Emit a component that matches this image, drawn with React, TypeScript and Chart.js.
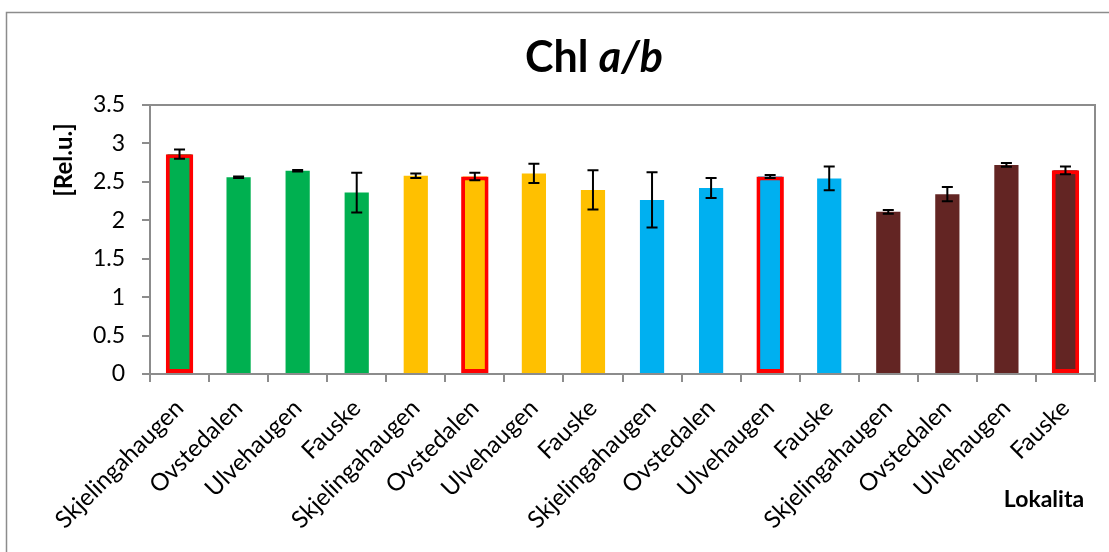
import React, { useEffect, useRef } from 'react';
import { Chart, registerables } from 'chart.js';

Chart.register(...registerables);

const categories = [
  'Skjelingahaugen', 'Ovstedalen', 'Ulvehaugen', 'Fauske',
  'Skjelingahaugen', 'Ovstedalen', 'Ulvehaugen', 'Fauske',
  'Skjelingahaugen', 'Ovstedalen', 'Ulvehaugen', 'Fauske',
  'Skjelingahaugen', 'Ovstedalen', 'Ulvehaugen', 'Fauske',
];
const values = [2.86, 2.56, 2.645, 2.36, 2.58, 2.57, 2.61, 2.395, 2.265, 2.42, 2.57, 2.545, 2.11, 2.34, 2.72, 2.65];
const errors = [0.06, 0.01, 0.01, 0.26, 0.03, 0.05, 0.125, 0.255, 0.36, 0.13, 0.02, 0.155, 0.025, 0.093, 0.025, 0.05];
const groupColors = ['#00B050', '#FFC000', '#00B0F0', '#632523'];
const highlighted = [0, 5, 10, 15];
const yMin = 0;
const yMax = 3.5;
const yStep = 0.5;
const titleMain = 'Chl ';
const titleItalic = 'a/b';
const yTitle = '[Rel.u.]';
const xTitle = 'Lokalita';

const FONT = 'Lato, "Open Sans", "DejaVu Sans", sans-serif';
const GRAY = '#8c8c8c';

const barColors = categories.map((_, i) => groupColors[Math.floor(i / 4)]);
const highlightValues = values.map((v, i) => (highlighted.includes(i) ? v : null));

const decor = {
  id: 'decor',
  beforeDraw(chart: any) {
    const ctx = chart.ctx;
    ctx.save();
    ctx.strokeStyle = GRAY;
    ctx.lineWidth = 1.5;
    ctx.strokeRect(6.5, 12.5, chart.width + 100, chart.height + 100);
    ctx.restore();
  },
  beforeDatasetsDraw(chart: any) {
    const ctx = chart.ctx;
    const { left, right, top, bottom } = chart.chartArea;
    ctx.save();
    ctx.strokeStyle = GRAY;
    ctx.lineWidth = 2;
    ctx.strokeRect(left, top, right - left, bottom - top);
    ctx.restore();
  },
  afterDatasetsDraw(chart: any) {
    const ctx = chart.ctx;
    const meta = chart.getDatasetMeta(1);
    const ys = chart.scales.y;
    ctx.save();
    ctx.strokeStyle = '#000';
    ctx.lineWidth = 2;
    meta.data.forEach((el: any, i: number) => {
      const v = values[i];
      const e = errors[i];
      const yT = ys.getPixelForValue(v + e);
      const yB = ys.getPixelForValue(v - e);
      const x = el.x;
      const cap = 5.5;
      ctx.beginPath();
      ctx.moveTo(x, yT);
      ctx.lineTo(x, yB);
      ctx.moveTo(x - cap, yT);
      ctx.lineTo(x + cap, yT);
      ctx.moveTo(x - cap, yB);
      ctx.lineTo(x + cap, yB);
      ctx.stroke();
    });
    ctx.restore();
  },
  afterDraw(chart: any) {
    const ctx = chart.ctx;
    const { left, right, top, bottom } = chart.chartArea;
    ctx.save();
    ctx.fillStyle = '#000';
    // Title
    ctx.textBaseline = 'alphabetic';
    ctx.textAlign = 'left';
    const f1 = `bold 43px ${FONT}`;
    const f2 = `italic bold 43px ${FONT}`;
    ctx.font = f1;
    const w1 = ctx.measureText(titleMain).width;
    ctx.font = f2;
    const w2 = ctx.measureText(titleItalic).width;
    const cx = chart.width * 0.5356;
    const x0 = cx - (w1 + w2) / 2;
    ctx.font = f1;
    ctx.fillText(titleMain, x0, top - 33);
    ctx.font = f2;
    ctx.fillText(titleItalic, x0 + w1, top - 33);
    // Y title
    ctx.save();
    ctx.translate(left - 86, top + 55);
    ctx.rotate(-Math.PI / 2);
    ctx.font = `bold 24px ${FONT}`;
    ctx.textAlign = 'center';
    ctx.textBaseline = 'middle';
    ctx.fillText(yTitle, 0, 0);
    ctx.restore();
    // X title
    ctx.font = `bold 23px ${FONT}`;
    ctx.textAlign = 'center';
    ctx.textBaseline = 'alphabetic';
    ctx.fillText(xTitle, right - 51, bottom + 133);
    ctx.restore();
  },
};

export default function App() {
  const ref = useRef<HTMLCanvasElement>(null);
  useEffect(() => {
    const canvas = ref.current;
    if (!canvas) return;
    const chart = new Chart(canvas, {
      type: 'bar',
      data: {
        labels: categories,
        datasets: [
          {
            data: highlightValues as any,
            backgroundColor: barColors,
            borderColor: '#FF0000',
            borderWidth: 4,
            borderSkipped: false,
            barPercentage: 0.465,
            categoryPercentage: 1,
            grouped: false,
          } as any,
          {
            data: values,
            backgroundColor: barColors,
            borderWidth: 0,
            barPercentage: 0.41,
            categoryPercentage: 1,
            grouped: false,
          } as any,
        ],
      },
      options: {
        animation: false,
        responsive: false,
        layout: { padding: { top: 105, right: 14, left: 0, bottom: 0 } },
        plugins: {
          legend: { display: false },
          tooltip: { enabled: false },
          title: { display: false },
        },
        scales: {
          x: {
            offset: true,
            grid: {
              offset: true,
              drawOnChartArea: false,
              drawTicks: true,
              tickLength: 8,
              color: GRAY,
              lineWidth: 2,
            },
            border: { color: GRAY, width: 2 },
            ticks: {
              autoSkip: false,
              minRotation: 45,
              maxRotation: 45,
              color: '#000',
              padding: 12,
              font: { family: FONT, size: 24 },
            },
            afterFit: (s: any) => {
              s.height = 178;
            },
          },
          y: {
            min: yMin,
            max: yMax,
            grid: {
              drawOnChartArea: false,
              drawTicks: true,
              tickLength: 8,
              color: GRAY,
              lineWidth: 2,
            },
            border: { color: GRAY, width: 2 },
            ticks: {
              stepSize: yStep,
              color: '#000',
              padding: 17,
              font: { family: FONT, size: 23 },
              callback: (v: any) => String(Number(v)),
            },
            afterFit: (s: any) => {
              s.width = 150;
            },
          },
        },
      } as any,
      plugins: [decor],
    });
    return () => chart.destroy();
  }, []);
  return (
    <div style={{ position: 'fixed', left: 0, top: 0, width: 1109, height: 552, background: '#fff' }}>
      <canvas ref={ref} width={1109} height={552} style={{ display: 'block' }} />
    </div>
  );
}
